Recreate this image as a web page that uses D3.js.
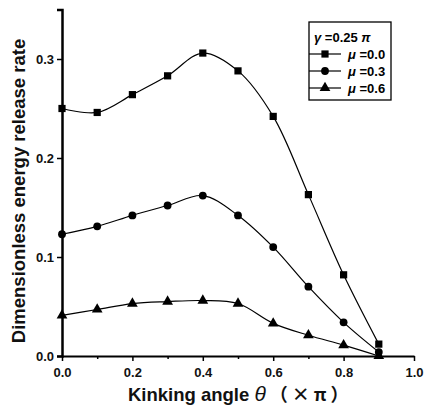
<!DOCTYPE html>
<html><head><meta charset="utf-8">
<script src="https://cdn.jsdelivr.net/npm/d3@7"></script>
<style>body{margin:0;background:#fff;}svg{display:block;font-family:Arial,"Liberation Sans",sans-serif;}</style>
</head><body><svg id="c" width="424" height="408"></svg>
<script>
const thetas = [0.0,0.1,0.2,0.3,0.4,0.5,0.6,0.7,0.8,0.9];
const mu00 = [0.250,0.246,0.264,0.283,0.306,0.288,0.242,0.163,0.082,0.012];
const mu03 = [0.123,0.131,0.142,0.152,0.162,0.142,0.110,0.070,0.034,0.004];
const mu06 = [0.041,0.047,0.053,0.055,0.056,0.053,0.033,0.021,0.011,0.000];
const seriesNames = ["\u03BC =0.0","\u03BC =0.3","\u03BC =0.6"];
const seriesSymbols = ["square","circle","triangle"];
const xTicks = [0.0,0.2,0.4,0.6,0.8,1.0];
const xMinorTicks = [0.1,0.3,0.5,0.7,0.9];
const yTicks = [0.0,0.1,0.2,0.3];

const svg = d3.select("#c");
const x = d3.scaleLinear().domain([0,1]).range([62,414]);
const y = d3.scaleLinear().domain([0,0.35]).range([356,9.5]);

const fmt = d3.format(".1f");
svg.append("g").attr("transform","translate(0,356)")
  .call(d3.axisBottom(x).tickValues(xMinorTicks).tickFormat("").tickSize(3).tickSizeOuter(0))
  .call(g=>g.select(".domain").remove())
  .call(g=>g.selectAll(".tick line").attr("stroke-width",1.5));
svg.append("g").attr("transform","translate(0,356)")
  .call(d3.axisBottom(x).tickValues(xTicks).tickFormat(fmt).tickSize(5).tickSizeOuter(0))
  .call(g=>g.select(".domain").attr("stroke-width",2))
  .call(g=>g.selectAll(".tick line").attr("stroke-width",1.5))
  .call(g=>g.selectAll("text").attr("font-size",13).attr("font-weight","bold").attr("fill","#111").attr("dy","1.0em"));
svg.append("g").attr("transform","translate(62,0)")
  .call(d3.axisLeft(y).tickValues(yTicks).tickFormat(fmt).tickSize(5).tickSizeOuter(5))
  .call(g=>g.select(".domain").attr("stroke-width",2.5))
  .call(g=>g.selectAll(".tick line").attr("stroke-width",1.5))
  .call(g=>g.selectAll("text").attr("font-size",13).attr("font-weight","bold").attr("fill","#111"));

const data = [mu00,mu03,mu06];
const line = d3.line().x(d=>x(d[0])).y(d=>y(d[1])).curve(d3.curveCatmullRom.alpha(0.5));
const symType = {square:d3.symbolSquare,circle:d3.symbolCircle,triangle:d3.symbolTriangle};
const symSize = {square:52,circle:48,triangle:50};
data.forEach((vals,i)=>{
  const pts = thetas.map((t,j)=>[t,vals[j]]);
  svg.append("path").datum(pts).attr("d",line).attr("fill","none").attr("stroke","#000").attr("stroke-width",1.2);
  const sym = d3.symbol().type(symType[seriesSymbols[i]]).size(symSize[seriesSymbols[i]]);
  svg.append("g").selectAll("path").data(pts).join("path")
    .attr("transform",d=>`translate(${x(d[0])},${y(d[1])})`).attr("d",sym).attr("fill","#000");
});

// legend
const lg = svg.append("g");
lg.append("rect").attr("x",309).attr("y",22).attr("width",82).attr("height",78).attr("fill","#fff").attr("stroke","#000").attr("stroke-width",1.3);
const lt = lg.append("text").attr("x",314).attr("y",42).attr("font-size",13).attr("font-weight","bold");
lt.append("tspan").attr("font-style","italic").text("\u03B3");
lt.append("tspan").text(" =0.25 ");
lt.append("tspan").attr("font-style","italic").text("\u03C0");
seriesNames.forEach((n,i)=>{
  const yy = 54+i*17;
  lg.append("line").attr("x1",309).attr("x2",341).attr("y1",yy).attr("y2",yy).attr("stroke","#000").attr("stroke-width",1.2);
  lg.append("path").attr("transform",`translate(325,${yy})`).attr("d",d3.symbol().type(symType[seriesSymbols[i]]).size(symSize[seriesSymbols[i]])()).attr("fill","#000");
  const t = lg.append("text").attr("x",348).attr("y",yy+5).attr("font-size",13).attr("font-weight","bold");
  t.append("tspan").attr("font-style","italic").text(n.slice(0,1));
  t.append("tspan").text(n.slice(1));
});

// axis labels
svg.append("text").attr("transform","translate(25,191) rotate(-90)").attr("text-anchor","middle")
  .attr("font-size",18.5).attr("font-weight","bold").attr("fill","#111").text("Dimensionless energy release rate");
const xl = svg.append("text").attr("x",128).attr("y",401).attr("text-anchor","start").attr("font-size",18.5).attr("font-weight","bold").attr("fill","#111");
xl.append("tspan").text("Kinking angle ");
xl.append("tspan").attr("font-style","italic").attr("font-weight","normal").attr("font-size",21).text("\u03B8");
xl.append("tspan").attr("dx",4).attr("font-family","'Noto Sans CJK JP'").attr("font-weight","bold").attr("font-size",18).attr("letter-spacing",4).text("\uFF08\u00D7\u03C0\uFF09");
</script></body></html>
